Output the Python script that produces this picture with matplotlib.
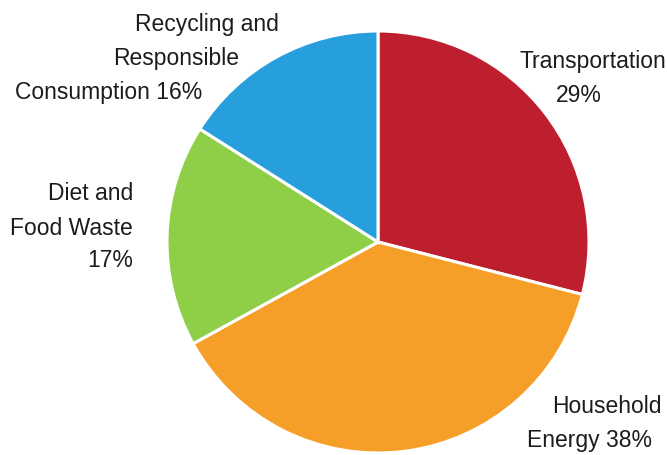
import matplotlib
matplotlib.use("Agg")
import matplotlib.pyplot as plt

# Share of household footprint by category (%)
categories = ["Transportation", "Household Energy", "Diet and Food Waste",
              "Recycling and Responsible Consumption"]
shares = [29, 38, 17, 16]
colors = ["#BE1F2E", "#F69F28", "#8FCF47", "#289FDD"]

W, H = 667, 455
fig = plt.figure(figsize=(W / 100, H / 100), dpi=100)
ax = fig.add_axes([0, 0, 1, 1])

cx, cy, r = 378, H - 242, 211
ax.pie(shares, colors=colors, startangle=90, counterclock=False,
       center=(cx, cy), radius=r, frame=True,
       wedgeprops=dict(edgecolor="white", linewidth=2.2))
ax.set_xlim(0, W)
ax.set_ylim(0, H)
ax.set_aspect("equal")
ax.axis("off")

font = ["Liberation Sans", "DejaVu Sans"]
fs = 16.5

# label lines: (text, x, baseline y from top, alignment)
label_lines = [
    ("Recycling and", 135, 31, "left"),
    ("Responsible", 113, 65, "left"),
    (f"Consumption {shares[3]}%", 15, 99, "left"),
    ("Transportation", 520, 68, "left"),
    (f"{shares[0]}%", 556, 102, "left"),
    ("Diet and", 133, 200, "right"),
    ("Food Waste", 133, 235, "right"),
    (f"{shares[2]}%", 133, 267, "right"),
    ("Household", 552, 413, "left"),
    (f"Energy {shares[1]}%", 527, 447, "left"),
]
for text, x, yb, ha in label_lines:
    ax.text(x, H - yb, text, ha=ha, va="baseline", fontsize=fs,
            family=font, color="#1E1B1C")

fig.savefig("out.png", dpi=100)
